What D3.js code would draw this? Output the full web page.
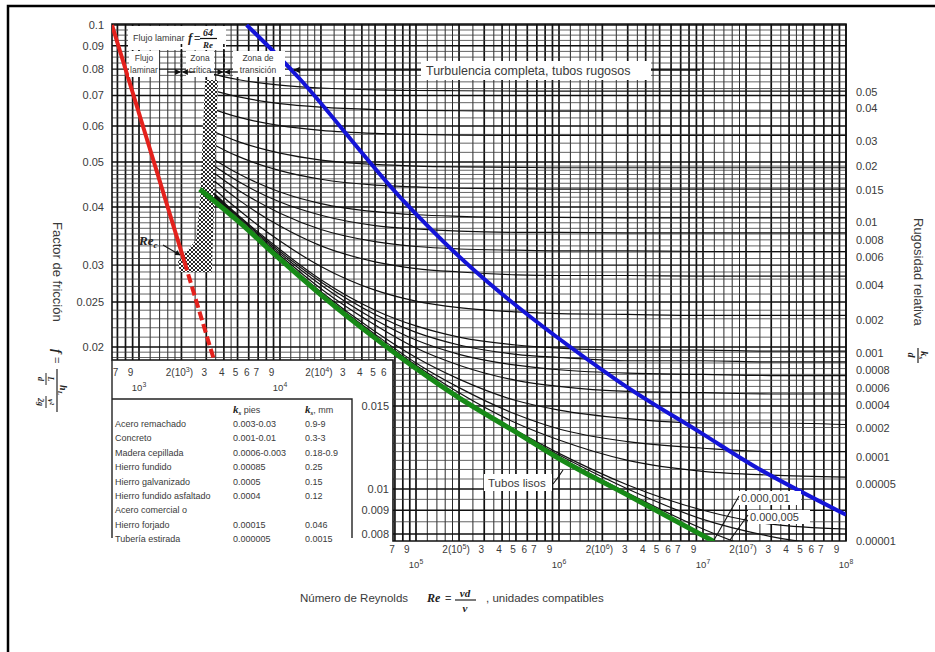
<!DOCTYPE html>
<html>
<head>
<meta charset="utf-8">
<script src="https://cdn.jsdelivr.net/npm/d3@7"></script>
<style>
  body { margin: 0; background: #fff; }
  svg text { font-family: "Liberation Sans", Arial, sans-serif; fill: #3a3a3a; }
  svg text.it, svg tspan.it { font-family: "Liberation Serif", "Times New Roman", serif; font-style: italic; font-weight: bold; fill: #222; }
</style>
</head>
<body>
<svg id="chart" width="935" height="652"></svg>
<script>
// ---------- values ----------
const reSamples = [3000, 5000, 1e4, 2e4, 5e4, 1e5, 2e5, 5e5, 1e6, 3e6, 1e7, 3e7, 1e8];
const roughness = [0.05, 0.04, 0.03, 0.02, 0.015, 0.01, 0.008, 0.006, 0.004, 0.002, 0.001,
  0.0008, 0.0006, 0.0004, 0.0002, 0.0001, 0.00005, 0.00001, 0.000005, 0.000001];
// friction factor of each roughness curve at reSamples
const frictionCurves = [
  [0.0787, 0.0759, 0.0738, 0.0727, 0.0720, 0.0718, 0.0717, 0.0716, 0.0716, 0.0716, 0.0716, 0.0716, 0.0716],
  [0.0725, 0.0696, 0.0672, 0.0660, 0.0652, 0.0649, 0.0648, 0.0647, 0.0647, 0.0647, 0.0647, 0.0647, 0.0647],
  [0.0661, 0.0628, 0.0601, 0.0587, 0.0578, 0.0575, 0.0573, 0.0572, 0.0572, 0.0572, 0.0572, 0.0572, 0.0572],
  [0.0593, 0.0555, 0.0523, 0.0505, 0.0494, 0.0490, 0.0488, 0.0487, 0.0486, 0.0486, 0.0486, 0.0486, 0.0486],
  [0.0557, 0.0515, 0.0479, 0.0459, 0.0446, 0.0442, 0.0439, 0.0438, 0.0437, 0.0437, 0.0437, 0.0437, 0.0437],
  [0.0519, 0.0473, 0.0431, 0.0407, 0.0391, 0.0385, 0.0382, 0.0380, 0.0380, 0.0379, 0.0379, 0.0379, 0.0379],
  [0.0503, 0.0455, 0.0410, 0.0384, 0.0365, 0.0359, 0.0355, 0.0353, 0.0353, 0.0352, 0.0352, 0.0352, 0.0352],
  [0.0487, 0.0436, 0.0388, 0.0358, 0.0337, 0.0329, 0.0325, 0.0323, 0.0322, 0.0322, 0.0321, 0.0321, 0.0321],
  [0.0470, 0.0416, 0.0364, 0.0330, 0.0305, 0.0295, 0.0290, 0.0286, 0.0285, 0.0285, 0.0284, 0.0284, 0.0284],
  [0.0453, 0.0396, 0.0338, 0.0298, 0.0265, 0.0251, 0.0243, 0.0238, 0.0236, 0.0235, 0.0234, 0.0234, 0.0234],
  [0.0444, 0.0385, 0.0324, 0.0279, 0.0240, 0.0222, 0.0210, 0.0202, 0.0199, 0.0197, 0.0197, 0.0196, 0.0196],
  [0.0442, 0.0383, 0.0321, 0.0276, 0.0235, 0.0215, 0.0202, 0.0193, 0.0190, 0.0187, 0.0187, 0.0186, 0.0186],
  [0.0440, 0.0381, 0.0318, 0.0272, 0.0229, 0.0207, 0.0193, 0.0183, 0.0179, 0.0176, 0.0175, 0.0174, 0.0174],
  [0.0439, 0.0378, 0.0315, 0.0267, 0.0223, 0.0199, 0.0183, 0.0170, 0.0165, 0.0161, 0.0160, 0.0159, 0.0159],
  [0.0437, 0.0376, 0.0312, 0.0263, 0.0216, 0.0190, 0.0171, 0.0154, 0.0147, 0.0141, 0.0138, 0.0138, 0.0137],
  [0.0436, 0.0375, 0.0310, 0.0261, 0.0213, 0.0185, 0.0164, 0.0144, 0.0134, 0.0126, 0.0122, 0.0120, 0.0120],
  [0.0436, 0.0375, 0.0310, 0.0260, 0.0211, 0.0183, 0.0160, 0.0138, 0.0127, 0.0115, 0.0109, 0.0107, 0.0106],
  [0.0435, 0.0374, 0.0309, 0.0259, 0.0209, 0.0181, 0.0157, 0.0133, 0.0119, 0.0102, 0.0090, 0.0084, 0.0082],
  [0.0435, 0.0374, 0.0309, 0.0259, 0.0209, 0.0180, 0.0157, 0.0132, 0.0118, 0.0100, 0.0086, 0.0079, 0.0075],
  [0.0435, 0.0374, 0.0309, 0.0259, 0.0209, 0.0180, 0.0156, 0.0132, 0.0117, 0.0098, 0.0082, 0.0072, 0.0064]
];
const smoothRe = [2700, 5000, 1e4, 2e4, 5e4, 1e5, 2e5, 5e5, 1e6, 3e6, 1.2e7];
const smoothF = [0.0437, 0.0374, 0.0309, 0.0259, 0.0209, 0.0180, 0.0156, 0.0132, 0.0116, 0.0097, 0.0077];
const laminarRe = [640, 2100, 3400];
const laminarF = [0.1, 0.0305, 0.0188];
const roughLimitRe = [5800, 14000, 80000, 304000, 2.53e6, 9.5e6, 2.5e7, 1e8];
const roughLimitF = [0.1, 0.0761, 0.0414, 0.0279, 0.0170, 0.0132, 0.0110, 0.0088];
const criticalRe = [2940, 3630, 3290, 1950, 1890, 2540, 2710];
const criticalF = [0.0757, 0.0757, 0.0290, 0.0290, 0.0305, 0.0340, 0.0414];
const zoneRe = [2000, 4000];

const leftTicks = [0.1, 0.09, 0.08, 0.07, 0.06, 0.05, 0.04, 0.03, 0.025, 0.02];
const lowerLeftTicks = [0.015, 0.01, 0.009, 0.008];
const majorF = leftTicks.concat(lowerLeftTicks);
const rightLabels = ["0.05", "0.04", "0.03", "0.02", "0.015", "0.01", "0.008", "0.006", "0.004", "0.002",
  "0.001", "0.0008", "0.0006", "0.0004", "0.0002", "0.0001", "0.00005", "0.00001"];
const rightLabelF = [0.0712, 0.0657, 0.0556, 0.0490, 0.0435, 0.0371, 0.0340, 0.0312, 0.0272, 0.0229,
  0.0194, 0.0179, 0.0164, 0.0151, 0.0135, 0.0117, 0.01025, 0.00773];

const upperTickRe = [700, 900, 2000, 3000, 4000, 5000, 6000, 7000, 9000, 2e4, 3e4, 4e4, 5e4, 6e4];
const upperTickLabels = ["7", "9", "2(10^3)", "3", "4", "5", "6", "7", "9", "2(10^4)", "3", "4", "5", "6"];
const upperDecades = [1e3, 1e4];
const upperDecadeLabels = ["10^3", "10^4"];
const lowerTickRe = [7e4, 9e4, 2e5, 3e5, 4e5, 5e5, 6e5, 7e5, 9e5, 2e6, 3e6, 4e6, 5e6, 6e6, 7e6, 9e6,
  2e7, 3e7, 4e7, 5e7, 6e7, 7e7, 9e7];
const lowerTickLabels = ["7", "9", "2(10^5)", "3", "4", "5", "6", "7", "9", "2(10^6)", "3", "4", "5", "6", "7", "9",
  "2(10^7)", "3", "4", "5", "6", "7", "9"];
const lowerDecades = [1e5, 1e6, 1e7, 1e8];
const lowerDecadeLabels = ["10^5", "10^6", "10^7", "10^8"];
const gridSteps = [1, 1.2, 1.4, 1.6, 1.8, 2, 2.5, 3, 3.5, 4, 4.5, 5, 6, 7, 8, 9];

const materials = ["Acero remachado", "Concreto", "Madera cepillada", "Hierro fundido", "Hierro galvanizado",
  "Hierro fundido asfaltado", "Acero comercial o", "Hierro forjado", "Tubería estirada"];
const ksFeet = ["0.003-0.03", "0.001-0.01", "0.0006-0.003", "0.00085", "0.0005", "0.0004", "", "0.00015", "0.000005"];
const ksMm = ["0.9-9", "0.3-3", "0.18-0.9", "0.25", "0.15", "0.12", "", "0.046", "0.0015"];

// ---------- layout ----------
const svg = d3.select('#chart');
svg.append('rect').attr('width', 935).attr('height', 652).attr('fill', '#fff');

const plotTop = 24, plotLeft = 112, plotRight = 846;
const upperBottom = 360, lowerLeft = 393, lowerBottom = 541;

// the scanned sheet is not perfectly even, so the log scales are pinned per decade
const x = d3.scaleLog().domain([640, 1e3, 1e4, 1e5, 1e6, 1e7, 1e8]).range([112, 139, 280, 416, 559, 703, 846]);
const y = d3.scaleLog().domain([0.1, 0.05, 0.02, 0.01, 0.008]).range([25, 162, 347, 489, 534]);
const fSplit = y.invert(upperBottom);

const defs = svg.append('defs');
const clip = defs.append('clipPath').attr('id', 'plotClip');
clip.append('rect').attr('x', plotLeft).attr('y', plotTop).attr('width', plotRight - plotLeft).attr('height', upperBottom - plotTop);
clip.append('rect').attr('x', lowerLeft).attr('y', plotTop).attr('width', plotRight - lowerLeft).attr('height', lowerBottom - plotTop);

const hatch = defs.append('pattern').attr('id', 'hatch').attr('patternUnits', 'userSpaceOnUse')
  .attr('width', 4).attr('height', 4);
hatch.append('rect').attr('width', 4).attr('height', 4).attr('fill', '#fff');
hatch.append('path').attr('d', 'M0,4 L4,0 M0,0 L4,4').attr('stroke', '#111').attr('stroke-width', 0.9);

defs.append('marker').attr('id', 'arrow').attr('viewBox', '0 0 10 10').attr('refX', 9).attr('refY', 5)
  .attr('markerWidth', 5).attr('markerHeight', 5).attr('orient', 'auto-start-reverse')
  .append('path').attr('d', 'M0,0 L10,5 L0,10 z').attr('fill', '#111');

// ---------- grid ----------
const grid = svg.append('g');
let vLines = [];
for (let n = 2; n <= 7; n++) {
  gridSteps.forEach(m => {
    const re = m * Math.pow(10, n);
    if (re >= 640 && re <= 1e8) vLines.push({ re: re, major: Number.isInteger(m) });
  });
}
vLines.push({ re: 1e8, major: true });

grid.selectAll('.vgrid').data(vLines).enter().append('line')
  .attr('class', 'vgrid')
  .attr('x1', d => x(d.re)).attr('x2', d => x(d.re))
  .attr('y1', plotTop)
  .attr('y2', d => x(d.re) >= lowerLeft - 0.5 ? lowerBottom : upperBottom)
  .attr('stroke', '#111')
  .attr('stroke-width', d => d.major ? 1.7 : 0.9);

let hValues = d3.range(0.05, 0.1001, 0.0025)
  .concat(d3.range(0.02, 0.05, 0.001))
  .concat(d3.range(0.0075, 0.02, 0.0005))
  .map(v => +v.toFixed(5))
  .filter(v => y(v) >= plotTop - 0.5 && y(v) <= lowerBottom);
hValues = Array.from(new Set(hValues));
const isMajor = v => majorF.some(m => Math.abs(m - v) < 1e-6);

grid.selectAll('.hgrid').data(hValues).enter().append('line')
  .attr('class', 'hgrid')
  .attr('x1', d => d >= fSplit ? plotLeft : lowerLeft)
  .attr('x2', plotRight)
  .attr('y1', d => y(d)).attr('y2', d => y(d))
  .attr('stroke', d => isMajor(d) ? '#111' : '#3c3c3c')
  .attr('stroke-width', d => isMajor(d) ? 1.4 : 0.8);

// outline of the two chart panels
grid.append('path')
  .attr('d', `M${plotLeft},${plotTop} H${plotRight} V${lowerBottom} H${lowerLeft} V${upperBottom} H${plotLeft} Z`)
  .attr('fill', 'none').attr('stroke', '#111').attr('stroke-width', 1.6);

// ---------- curves ----------
const line = d3.line().x(d => x(d[0])).y(d => y(d[1])).curve(d3.curveMonotoneX);
const curves = svg.append('g').attr('clip-path', 'url(#plotClip)');

curves.selectAll('.rough').data(frictionCurves).enter().append('path')
  .attr('class', 'rough')
  .attr('d', vals => line(reSamples.map((re, j) => [re, vals[j]])))
  .attr('fill', 'none').attr('stroke', '#111').attr('stroke-width', 1.2);

// critical zone
curves.append('path')
  .attr('d', 'M' + criticalRe.map((re, i) => x(re) + ',' + y(criticalF[i])).join('L') + 'Z')
  .attr('fill', 'url(#hatch)');

// complete turbulence limit
curves.append('path')
  .attr('d', d3.line().x(d => x(d[0])).y(d => y(d[1])).curve(d3.curveCatmullRom)(roughLimitRe.map((re, i) => [re, roughLimitF[i]])))
  .attr('fill', 'none').attr('stroke', '#1414d8').attr('stroke-width', 4);

// smooth pipes
curves.append('path')
  .attr('d', line(smoothRe.map((re, i) => [re, smoothF[i]])))
  .attr('fill', 'none').attr('stroke', '#178a17').attr('stroke-width', 5);

// laminar flow
curves.append('line')
  .attr('x1', x(laminarRe[0])).attr('y1', y(laminarF[0]))
  .attr('x2', x(laminarRe[1])).attr('y2', y(laminarF[1]))
  .attr('stroke', '#e4211c').attr('stroke-width', 4);
curves.append('line')
  .attr('x1', x(laminarRe[1])).attr('y1', y(laminarF[1]))
  .attr('x2', x(laminarRe[2])).attr('y2', y(laminarF[2]))
  .attr('stroke', '#e4211c').attr('stroke-width', 4).attr('stroke-dasharray', '9,4');

// ---------- helpers ----------
function supText(sel, label) {
  const i = label.indexOf('^');
  if (i < 0) { sel.text(label); return; }
  sel.append('tspan').text(label.slice(0, i));
  sel.append('tspan').attr('dy', -4).attr('font-size', '0.72em').text(label[i + 1]);
  sel.append('tspan').attr('dy', 4).text(label.slice(i + 2));
}

// ---------- axis labels ----------
const labels = svg.append('g');
leftTicks.forEach(v => {
  labels.append('text').attr('x', 104).attr('y', y(v) + 4).attr('text-anchor', 'end')
    .attr('font-size', 11).text(v);
});
lowerLeftTicks.forEach(v => {
  labels.append('text').attr('x', 389).attr('y', y(v) + 4).attr('text-anchor', 'end')
    .attr('font-size', 11).text(v);
});
rightLabels.forEach((t, i) => {
  labels.append('text').attr('x', 856).attr('y', y(rightLabelF[i]) + 4)
    .attr('font-size', 11).text(t);
});
upperTickRe.forEach((re, i) => {
  supText(labels.append('text').attr('x', x(re) - 2).attr('y', 376).attr('text-anchor', 'middle')
    .attr('font-size', 10), upperTickLabels[i]);
});
upperDecades.forEach((re, i) => {
  supText(labels.append('text').attr('x', x(re)).attr('y', 391).attr('text-anchor', 'middle')
    .attr('font-size', 9.5), upperDecadeLabels[i]);
});
lowerTickRe.forEach((re, i) => {
  supText(labels.append('text').attr('x', x(re) - 3).attr('y', 553).attr('text-anchor', 'middle')
    .attr('font-size', 10), lowerTickLabels[i]);
});
lowerDecades.forEach((re, i) => {
  supText(labels.append('text').attr('x', x(re)).attr('y', 568).attr('text-anchor', 'middle')
    .attr('font-size', 9.5), lowerDecadeLabels[i]);
});

// ---------- annotations ----------
const notes = svg.append('g');
function whiteBox(x0, y0, w, h) {
  notes.append('rect').attr('x', x0).attr('y', y0).attr('width', w).attr('height', h).attr('fill', '#fff');
}
whiteBox(128, 26, 98, 24);
whiteBox(129, 51, 30, 26);
whiteBox(186, 51, 28, 26);
whiteBox(233, 51, 52, 26);

notes.append('text').attr('x', 133).attr('y', 41).attr('font-size', 9).text('Flujo laminar');
notes.append('text').attr('class', 'it').attr('x', 188).attr('y', 42).attr('font-size', 13).text('f');
notes.append('text').attr('x', 194).attr('y', 42).attr('font-size', 11).text('=');
notes.append('text').attr('class', 'it').attr('x', 208).attr('y', 36).attr('text-anchor', 'middle').attr('font-size', 10).text('64');
notes.append('line').attr('x1', 200).attr('x2', 217).attr('y1', 38.5).attr('y2', 38.5).attr('stroke', '#111').attr('stroke-width', 1.2);
notes.append('text').attr('class', 'it').attr('x', 208).attr('y', 48).attr('text-anchor', 'middle').attr('font-size', 9).text('Re');

[['Flujo', 'laminar', 144], ['Zona', 'crítica', 200], ['Zona de', 'transición', 258]].forEach(d => {
  notes.append('text').attr('x', d[2]).attr('y', 61).attr('text-anchor', 'middle').attr('font-size', 8.5).text(d[0]);
  notes.append('text').attr('x', d[2]).attr('y', 73).attr('text-anchor', 'middle').attr('font-size', 8.5).text(d[1]);
});

zoneRe.forEach(re => {
  const zx = x(re);
  notes.append('line').attr('x1', zx).attr('x2', zx).attr('y1', 44).attr('y2', 80)
    .attr('stroke', '#111').attr('stroke-width', 1.6).attr('stroke-dasharray', '3,2');
  notes.append('line').attr('x1', zx - 14).attr('x2', zx - 1).attr('y1', 72).attr('y2', 72)
    .attr('stroke', '#111').attr('stroke-width', 1.2).attr('marker-end', 'url(#arrow)');
  notes.append('line').attr('x1', zx + 14).attr('x2', zx + 1).attr('y1', 72).attr('y2', 72)
    .attr('stroke', '#111').attr('stroke-width', 1.2).attr('marker-end', 'url(#arrow)');
});

// complete turbulence label
notes.append('line').attr('x1', 700).attr('x2', 294).attr('y1', 70).attr('y2', 70)
  .attr('stroke', '#111').attr('stroke-width', 1.3).attr('marker-end', 'url(#arrow)');
whiteBox(421, 61, 230, 19);
notes.append('text').attr('x', 426).attr('y', 75).attr('font-size', 12.5).text('Turbulencia completa, tubos rugosos');

// Re critical
const rec = notes.append('text').attr('x', 139).attr('y', 245).attr('font-size', 13);
rec.append('tspan').attr('class', 'it').text('Re');
rec.append('tspan').attr('class', 'it').attr('dy', 3).attr('font-size', 9).text('c');
notes.append('line').attr('x1', 163).attr('y1', 245).attr('x2', 180).attr('y2', 255)
  .attr('stroke', '#111').attr('stroke-width', 1.1).attr('marker-end', 'url(#arrow)');

// smooth pipes label
whiteBox(484, 474, 68, 17);
notes.append('text').attr('x', 488).attr('y', 487).attr('font-size', 11.5).text('Tubos lisos');
notes.append('path').attr('d', 'M553,484 Q558,478 563,470').attr('fill', 'none')
  .attr('stroke', '#111').attr('stroke-width', 1.1);

// very small roughness labels
whiteBox(739, 491, 62, 14);
whiteBox(748, 510, 62, 14);
notes.append('text').attr('x', 741).attr('y', 502).attr('font-size', 11).text('0.000,001');
notes.append('text').attr('x', 750).attr('y', 521).attr('font-size', 11).text('0.000,005');
notes.append('line').attr('x1', 739).attr('y1', 496).attr('x2', 714).attr('y2', 540).attr('stroke', '#111').attr('stroke-width', 1.1);
notes.append('line').attr('x1', 748).attr('y1', 515).attr('x2', 730).attr('y2', 540).attr('stroke', '#111').attr('stroke-width', 1.1);

// ---------- material table ----------
const table = svg.append('g');
table.append('path').attr('d', `M${plotLeft},${upperBottom} V538 M${plotLeft},399 H352 V538`)
  .attr('fill', 'none').attr('stroke', '#222').attr('stroke-width', 1.4);
[['pies', 233], ['mm', 305]].forEach(h => {
  const t = table.append('text').attr('x', h[1]).attr('y', 413).attr('font-size', 9);
  t.append('tspan').attr('class', 'it').attr('font-size', 11).text('k');
  t.append('tspan').attr('class', 'it').attr('font-size', 7).attr('dy', 2).text('s');
  t.append('tspan').attr('dy', -2).text(h[1] === 305 ? ', ' + h[0] : ' ' + h[0]);
});
materials.forEach((m, i) => {
  const ty = 427 + i * 14.4;
  table.append('text').attr('x', 115).attr('y', ty).attr('font-size', 9).text(m);
  table.append('text').attr('x', 233).attr('y', ty).attr('font-size', 9).text(ksFeet[i]);
  table.append('text').attr('x', 305).attr('y', ty).attr('font-size', 9).text(ksMm[i]);
});

// ---------- titles ----------
const lt = svg.append('g').attr('transform', 'translate(57,222) rotate(90)');
lt.append('text').attr('x', 0).attr('y', 4).attr('font-size', 13).text('Factor de fricción');
lt.append('text').attr('class', 'it').attr('x', 127).attr('y', 4).attr('font-size', 13).text('f');
lt.append('text').attr('x', 135).attr('y', 4).attr('font-size', 11).text('=');
const num = lt.append('text').attr('x', 168).attr('y', -3).attr('text-anchor', 'middle').attr('font-size', 10);
num.append('tspan').attr('class', 'it').text('h');
num.append('tspan').attr('class', 'it').attr('dy', 2).attr('font-size', 7).text('L');
lt.append('line').attr('x1', 147).attr('x2', 190).attr('y1', 0).attr('y2', 0).attr('stroke', '#222').attr('stroke-width', 1.2);
[['L', 'd', 157], ['v²', '2g', 180]].forEach(p => {
  lt.append('text').attr('class', 'it').attr('x', p[2]).attr('y', 9).attr('text-anchor', 'middle').attr('font-size', 8).text(p[0]);
  lt.append('line').attr('x1', p[2] - 6).attr('x2', p[2] + 6).attr('y1', 11).attr('y2', 11).attr('stroke', '#222');
  lt.append('text').attr('class', 'it').attr('x', p[2]).attr('y', 19).attr('text-anchor', 'middle').attr('font-size', 8).text(p[1]);
});

const rt = svg.append('g').attr('transform', 'translate(918,218) rotate(90)');
rt.append('text').attr('x', 0).attr('y', 4).attr('font-size', 13).text('Rugosidad relativa');
const kn = rt.append('text').attr('x', 137).attr('y', -3).attr('text-anchor', 'middle').attr('font-size', 11);
kn.append('tspan').attr('class', 'it').text('k');
kn.append('tspan').attr('class', 'it').attr('dy', 2).attr('font-size', 7).text('s');
rt.append('line').attr('x1', 130).attr('x2', 145).attr('y1', 0).attr('y2', 0).attr('stroke', '#222').attr('stroke-width', 1.2);
rt.append('text').attr('class', 'it').attr('x', 137).attr('y', 10).attr('text-anchor', 'middle').attr('font-size', 10).text('d');

const bt = svg.append('g');
bt.append('text').attr('x', 300).attr('y', 602).attr('font-size', 11.5).text('Número de Reynolds');
bt.append('text').attr('class', 'it').attr('x', 427).attr('y', 602).attr('font-size', 12).text('Re');
bt.append('text').attr('x', 445).attr('y', 602).attr('font-size', 11).text('=');
bt.append('text').attr('class', 'it').attr('x', 465).attr('y', 597).attr('text-anchor', 'middle').attr('font-size', 11).text('vd');
bt.append('line').attr('x1', 455).attr('x2', 476).attr('y1', 600).attr('y2', 600).attr('stroke', '#222').attr('stroke-width', 1.2);
bt.append('text').attr('class', 'it').attr('x', 465).attr('y', 612).attr('text-anchor', 'middle').attr('font-size', 11).text('ν');
bt.append('text').attr('x', 486).attr('y', 602).attr('font-size', 11.5).text(', unidades compatibles');

// frame of the scanned page
svg.append('path').attr('d', 'M8,652 V6 H935').attr('fill', 'none').attr('stroke', '#000').attr('stroke-width', 2.5);
</script>
</body>
</html>
